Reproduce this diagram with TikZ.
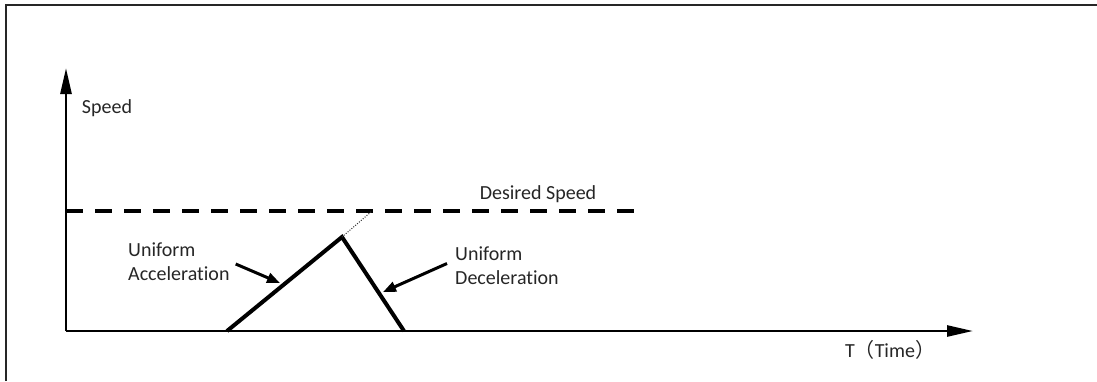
\documentclass[tikz,border=0pt]{standalone}
\usepackage{fontspec}
\setmainfont{Carlito}[Ligatures=NoCommon]
\newfontfamily\cjk{Noto Sans CJK SC}
\usetikzlibrary{arrows.meta}
\begin{document}
\begin{tikzpicture}[x=1pt,y=-1pt,
  lbl/.style={inner sep=0pt,font=\fontsize{20}{24}\selectfont,text=black!85},
  axis/.style={line width=2.6pt,-{Triangle[length=26pt,width=11pt]}},
  ramp/.style={line width=4pt,line join=miter},
  pointer/.style={line width=3pt,-{Triangle[length=13pt,width=10pt]}},
  frameline/.style={line width=2pt,black!85}]
\useasboundingbox (0,0) rectangle (1097,381);
% frame (only left and top visible)
\draw[frameline] (6,381) -- (6,5) -- (1097,5);
% coordinates
\coordinate (O) at (66,331);
\coordinate (ytip) at (66,68);
\coordinate (xtip) at (973,331);
\coordinate (a) at (227,331);
\coordinate (p) at (342,237);
\coordinate (b) at (404,331);
\coordinate (q) at (372,211);
\coordinate (ds) at (66,211);
\coordinate (de) at (636,211);
% axes
\draw[axis] (O) -- (ytip);
\draw[axis] (O) -- (xtip);
% desired speed dashed
\draw[line width=4pt,dash pattern=on 17pt off 12pt] (ds) -- (de);
% triangle profile
\draw[ramp] (a) -- (p) -- (b);
\draw[line width=1pt,dash pattern=on 1pt off 1.5pt,black!80] (p) -- (q);
% labels
\node[lbl] (speed) at (107,108) {Speed};
\node[lbl] (desired) at (538,194) {Desired Speed};
\node[lbl,anchor=west,align=left] (acc) at (128,262) {Uniform\\Acceleration};
\node[lbl,anchor=west,align=left] (dec) at (455,265.5) {Uniform\\Deceleration};
\node[lbl] (time) at (890,350) {T{\cjk （}Time{\cjk ）}};
% pointers
\coordinate (acctip) at (280,283);
\coordinate (dectip) at (383,292);
\draw[pointer] (acc.east) ++(6,2) -- (acctip);
\draw[pointer] (dec.west) ++(-8,-2) -- (dectip);
\end{tikzpicture}
\end{document}
